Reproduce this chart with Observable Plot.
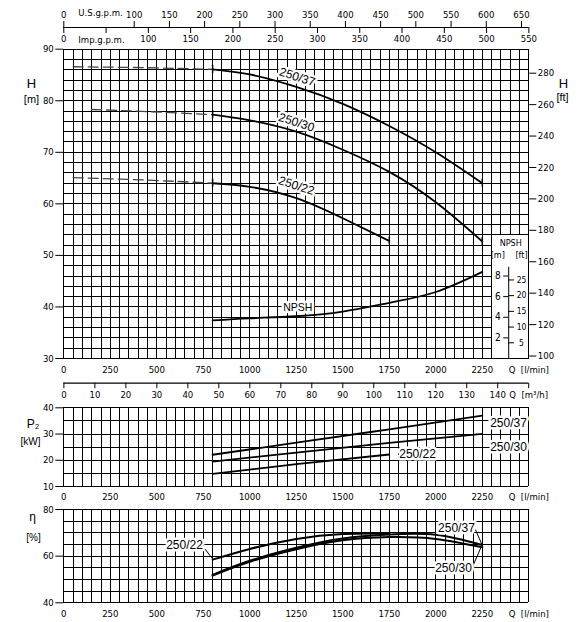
<!DOCTYPE html>
<html><head><meta charset="utf-8">
<script src="https://cdn.jsdelivr.net/npm/d3@7"></script>
<script src="https://cdn.jsdelivr.net/npm/@observablehq/plot@0.6"></script>
<style>
body{margin:0;background:#fff;}
#wrap{position:relative;width:577px;height:622px;overflow:hidden;background:#fff;}
</style></head><body><div id="wrap"></div>
<script>
// ---------- data ----------
const qTicks = [0, 250, 500, 750, 1000, 1250, 1500, 1750, 2000, 2250];
const qUnitLabel = "Q  [l/min]";
const usgpmTicks = [0, 100, 150, 200, 250, 300, 350, 400, 450, 500, 550, 600, 650];
const impgpmTicks = [0, 50, 100, 150, 200, 250, 300, 350, 400, 450, 500, 550];
const m3hTicks = [0, 10, 20, 30, 40, 50, 60, 70, 80, 90, 100, 110, 120, 130, 140, 150];
const hTicks = [30, 40, 50, 60, 70, 80, 90];
const ftTicks = [100, 120, 140, 160, 180, 200, 220, 240, 260, 280];
const npshMTicks = [2, 4, 6, 8];
const npshFtTicks = [5, 10, 15, 20, 25];
const p2Ticks = [10, 20, 30, 40];
const etaTicks = [40, 60, 80];

const models = ["250/37", "250/30", "250/22"];

// head H [m]
const qHead37 = [800, 1000, 1250, 1500, 1750, 2000, 2250];
const head37 = [86.1, 85.1, 82.7, 79.4, 75.1, 70.0, 64.0];
const qHead30 = [800, 1000, 1250, 1500, 1750, 2000, 2250];
const head30 = [77.3, 76.2, 74.0, 70.5, 66.2, 60.3, 52.7];
const qHead22 = [800, 1000, 1250, 1500, 1750];
const head22 = [64.0, 63.3, 61.1, 57.2, 52.8];
// dashed extensions (below minimum flow)
const qDash37 = [50, 450, 800];
const dash37 = [86.6, 86.4, 86.1];
const qDash30 = [150, 450, 800];
const dash30 = [78.3, 77.9, 77.3];
const qDash22 = [50, 450, 800];
const dash22 = [65.1, 64.6, 64.0];
// NPSH [m]
const qNpsh = [800, 1000, 1250, 1500, 1750, 2000, 2250];
const npsh = [3.7, 3.9, 4.1, 4.55, 5.4, 6.45, 8.4];
// P2 [kW]
const qP37 = [800, 1250, 1750, 2250];
const p37 = [22.1, 26.7, 31.8, 37.0];
const qP30 = [800, 1250, 1750, 2250];
const p30 = [19.5, 22.9, 26.6, 30.1];
const qP22 = [800, 1250, 1750];
const p22 = [14.8, 18.5, 22.2];
// efficiency [%]
const qEta37 = [800, 1000, 1250, 1500, 1750, 2000, 2250];
const eta37 = [52.0, 58.0, 63.6, 67.6, 69.3, 69.2, 64.8];
const qEta30 = [800, 1000, 1250, 1500, 1750, 2000, 2250];
const eta30 = [51.7, 57.6, 63.0, 66.8, 68.2, 67.4, 63.8];
const qEta22 = [800, 1000, 1250, 1500, 1750];
const eta22 = [58.5, 63.1, 67.4, 69.5, 69.7];

// ---------- build ----------
const US = 3.78541, IMP = 4.54609, M3H = 1000 / 60, FT = 0.3048;
const W = 577, ML = 63.3, MR = 48.7;
const FONT = "'Liberation Sans Narrow','DejaVu Sans Condensed','Liberation Sans',sans-serif";
const LFONT = "'Liberation Sans',Arial,sans-serif";
const style = {fontFamily: FONT, fontSize: "9.5px", background: "transparent", overflow: "visible", color: "black"};
const ser = (model, qs, vs) => qs.map((q, i) => ({model, q, v: vs[i]}));
const headData = [...ser(models[0], qHead37, head37), ...ser(models[1], qHead30, head30), ...ser(models[2], qHead22, head22)];
const dashData = [...ser(models[0], qDash37, dash37), ...ser(models[1], qDash30, dash30), ...ser(models[2], qDash22, dash22)];
const npshData = ser("NPSH", qNpsh, npsh);
const p2Data = [...ser(models[0], qP37, p37), ...ser(models[1], qP30, p30), ...ser(models[2], qP22, p22)];
const etaData = [...ser(models[0], qEta37, eta37), ...ser(models[1], qEta30, eta30), ...ser(models[2], qEta22, eta22)];
const headEnds = d3.groups(headData, d => d.model).flatMap(([, g]) => [g[0], g[g.length - 1]]);
const npshToH = n => 30 + 2 * n;

const gridQ = d3.range(0, 2501, 50);
const wrap = document.getElementById("wrap");
function place(top, opts) {
  const svg = Plot.plot(opts);
  svg.style.position = "absolute";
  svg.style.left = "0px";
  svg.style.top = top + "px";
  wrap.appendChild(svg);
}
const gridStyle = {stroke: "black", strokeWidth: 1, shapeRendering: "crispEdges"};
const qAxis = pad => Plot.axisX({anchor: "bottom", ticks: [...qTicks, 2500], tickFormat: v => v === 2500 ? qUnitLabel : String(v), tickSize: 0, tickPadding: pad, label: null});
const title = (t, anchor, dx, dy, size) => Plot.text([t], {frameAnchor: anchor, dx, dy, fontSize: size, fontFamily: LFONT, textAnchor: "middle", lineAnchor: "middle"});
const halo = {stroke: "white", strokeWidth: 5, fill: "black", paintOrder: "stroke", fontFamily: LFONT, fontSize: 12};

// A: U.S. / Imp. gpm axes
place(0, {
  width: W, height: 48, marginTop: 27, marginBottom: 21, marginLeft: ML, marginRight: MR, style,
  x: {domain: [0, 2500]}, y: {domain: [0, 1], axis: null},
  marks: [
    Plot.ruleY([0], {stroke: "black", strokeWidth: 1.2}),
    Plot.axisX({anchor: "top", ticks: usgpmTicks.map(g => g * US), tickFormat: v => String(Math.round(v / US)), tickSize: 7, tickPadding: 3, label: null}),
    Plot.axisX({anchor: "bottom", ticks: impgpmTicks.map(g => g * IMP), tickFormat: v => { const g = Math.round(v / IMP); return g === 50 ? "" : String(g); }, tickSize: 6, tickPadding: 2, label: null}),
    Plot.text(["U.S.g.p.m."], {x: () => 78, y: () => 1, dy: -15, textAnchor: "start"}),
    Plot.text(["Imp.g.p.m."], {x: () => 78, y: () => 1, dy: 12, textAnchor: "start"})
  ]
});

// B: head chart
place(36, {
  width: W, height: 342, marginTop: 12.7, marginBottom: 20, marginLeft: ML, marginRight: MR, style,
  x: {domain: [0, 2500]}, y: {domain: [30, 90]},
  marks: [
    Plot.ruleX(gridQ, gridStyle),
    Plot.ruleY(d3.range(30, 91, 2), gridStyle),
    Plot.rect([{q1: 2300, q2: 2500, h1: 30, h2: 54}], {x1: "q1", x2: "q2", y1: "h1", y2: "h2", fill: "white", stroke: "black", shapeRendering: "crispEdges"}),
    Plot.line(dashData, {x: "q", y: "v", z: "model", curve: "natural", stroke: "#444", strokeWidth: 1.3, strokeDasharray: "10,5"}),
    Plot.line(headData, {x: "q", y: "v", z: "model", curve: "natural", stroke: "black", strokeWidth: 1.8}),
    Plot.ruleX(headEnds, {x: "q", y1: d => d.v - 0.8, y2: d => d.v + 0.8, stroke: "black", strokeWidth: 1.5}),
    Plot.line(npshData, {x: "q", y: d => npshToH(d.v), curve: "natural", stroke: "black", strokeWidth: 1.8}),
    Plot.text([{t: "250/37", q: 1255, h: 84.6}, {t: "250/30", q: 1251, h: 75.8}, {t: "250/22", q: 1251, h: 63.5}], {x: "q", y: "h", text: "t", rotate: 18, ...halo}),
    Plot.text([{t: "NPSH", q: 1258, h: 39.9}], {x: "q", y: "h", text: "t", ...halo, fontSize: 10.5}),
    // NPSH inset axis
    Plot.ruleX([{q: 2392, h1: 30, h2: 47.7}], {x: "q", y1: "h1", y2: "h2", stroke: "black"}),
    Plot.ruleY(npshMTicks, {y: n => npshToH(n), x1: () => 2365, x2: () => 2392, stroke: "black"}),
    Plot.text(npshMTicks, {x: () => 2333, y: n => npshToH(n), text: n => String(n), fontSize: 10}),
    Plot.ruleY(npshFtTicks, {y: f => npshToH(f * FT), x1: () => 2392, x2: () => 2423, stroke: "black"}),
    Plot.text(npshFtTicks, {x: () => 2461, y: f => npshToH(f * FT), text: f => String(f), fontSize: 8.5}),
    Plot.text([{t: "NPSH", q: 2403, h: 52.3}, {t: "[m]", q: 2333, h: 50.1}, {t: "[ft]", q: 2461, h: 50.1}], {x: "q", y: "h", text: "t", fontSize: 9}),
    Plot.axisY({anchor: "left", ticks: hTicks, tickSize: 8, tickPadding: 2, label: null}),
    Plot.axisY({anchor: "right", ticks: ftTicks.map(f => f * FT), tickFormat: v => String(Math.round(v / FT)), tickSize: 7, tickPadding: 2, label: null}),
    qAxis(8),
    title("H", "top-left", -32.3, 34.3, 13),
    title("[m]", "top-left", -32.3, 50.3, 11),
    title("H", "top-right", 34.7, 34.3, 13),
    title("[ft]", "top-right", 33.7, 48.3, 11)
  ]
});

// C: m3/h axis
place(370, {
  width: W, height: 32.7, marginTop: 12.7, marginBottom: 20, marginLeft: ML, marginRight: MR, style,
  x: {domain: [0, 2500]}, y: {domain: [0, 1], axis: null},
  marks: [
    Plot.ruleY([0], {stroke: "black", strokeWidth: 1.2}),
    Plot.axisX({anchor: "bottom", ticks: m3hTicks.map(m => m * M3H), tickFormat: v => { const m = Math.round(v / M3H); return m === 150 ? "Q  [m³/h]" : String(m); }, tickSize: 5.5, tickPadding: 3, label: null})
  ]
});

// D: P2 chart
place(395, {
  width: W, height: 110, marginTop: 12.3, marginBottom: 19, marginLeft: ML, marginRight: MR, style,
  x: {domain: [0, 2500]}, y: {domain: [10, 40]},
  marks: [
    Plot.ruleX(gridQ, gridStyle),
    Plot.ruleY(d3.range(10, 41, 5), gridStyle),
    Plot.line(p2Data, {x: "q", y: "v", z: "model", curve: "natural", stroke: "black", strokeWidth: 1.8}),
    Plot.text([{t: "250/37", q: 2391, v: 34}, {t: "250/30", q: 2391, v: 25}, {t: "250/22", q: 1902, v: 22.2}], {x: "q", y: "v", text: "t", ...halo}),
    Plot.axisY({anchor: "left", ticks: p2Ticks, tickSize: 8, tickPadding: 2, label: null}),
    qAxis(7),
    title("P\u2082", "top-left", -30.8, 16.7, 12),
    title("[kW]", "top-left", -33.3, 33.7, 10)
  ]
});

// E: efficiency chart
place(497, {
  width: W, height: 123, marginTop: 12, marginBottom: 17.7, marginLeft: ML, marginRight: MR, style,
  x: {domain: [0, 2500]}, y: {domain: [40, 80]},
  marks: [
    Plot.ruleX(gridQ, gridStyle),
    Plot.ruleY(d3.range(40, 81, 5), gridStyle),
    Plot.line(etaData, {x: "q", y: "v", z: "model", curve: "natural", stroke: "black", strokeWidth: 2}),
    Plot.link([{q1: 752, v1: 63.7, q2: 800, v2: 58.9}, {q1: 2213, v1: 71.4, q2: 2250, v2: 64.6}, {q1: 2197, v1: 55.4, q2: 2242, v2: 63.6}], {x1: "q1", y1: "v1", x2: "q2", y2: "v2", stroke: "black", strokeWidth: 1}),
    Plot.text([{t: "250/22", q: 649, v: 64.5}, {t: "250/37", q: 2111, v: 71.8}, {t: "250/30", q: 2095, v: 54.7}], {x: "q", y: "v", text: "t", ...halo}),
    Plot.axisY({anchor: "left", ticks: etaTicks, tickSize: 8, tickPadding: 2, label: null}),
    qAxis(7),
    title("\u03b7", "top-left", -31.3, 8, 12),
    title("[%]", "top-left", -30.3, 28, 10)
  ]
});
</script></body></html>
